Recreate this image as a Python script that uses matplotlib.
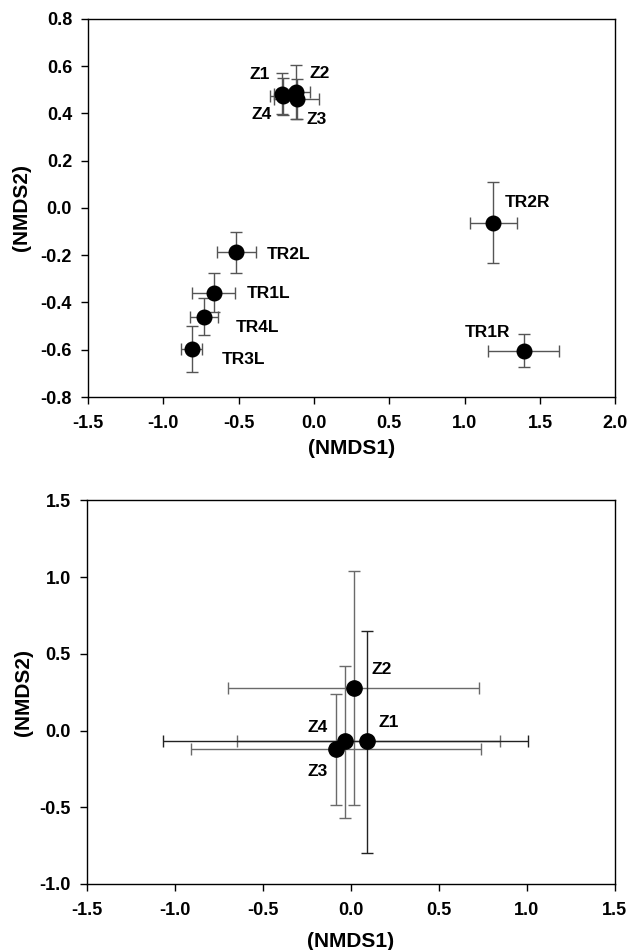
import numpy as np
import matplotlib
matplotlib.use("Agg")
import matplotlib.pyplot as plt
from matplotlib.ticker import FormatStrFormatter

plt.rcParams['font.family'] = ['Liberation Sans', 'DejaVu Sans']
plt.rcParams['font.weight'] = 'bold'

# top panel: sites along the transects
top_names = ['Z1', 'Z4', 'Z2', 'Z3', 'TR2L', 'TR1L', 'TR4L', 'TR3L', 'TR2R', 'TR1R']
top_x = [-0.215, -0.205, -0.121, -0.116, -0.515, -0.667, -0.730, -0.811, 1.189, 1.391]
top_y = [0.483, 0.472, 0.492, 0.462, -0.188, -0.358, -0.460, -0.598, -0.062, -0.604]
top_xerr = [0.05, 0.088, 0.093, 0.148, 0.13, 0.142, 0.095, 0.07, 0.156, 0.235]
top_yerr = [0.087, 0.08, 0.115, 0.085, 0.086, 0.081, 0.078, 0.098, 0.173, 0.069]
top_label_x = [-0.359, -0.347, 0.035, 0.018, -0.167, -0.304, -0.373, -0.468, 1.418, 1.152]
top_label_y = [0.563, 0.394, 0.567, 0.375, -0.196, -0.364, -0.505, -0.643, 0.024, -0.528]
top_xticks = [-1.5, -1.0, -0.5, 0.0, 0.5, 1.0, 1.5, 2.0]
top_yticks = [-0.8, -0.6, -0.4, -0.2, 0.0, 0.2, 0.4, 0.6, 0.8]

# bottom panel: Z sites only (asymmetric spreads)
bot_names = ['Z2', 'Z4', 'Z3', 'Z1']
bot_x = [0.015, -0.031, -0.085, 0.094]
bot_y = [0.28, -0.07, -0.123, -0.07]
bot_x_lo = [-0.696, -0.65, -0.91, -1.067]
bot_x_hi = [0.728, 0.846, 0.739, 1.008]
bot_y_lo = [-0.486, -0.567, -0.486, -0.797]
bot_y_hi = [1.04, 0.42, 0.238, 0.651]
bot_colors = ['#6a6a6a', '#6a6a6a', '#6a6a6a', '#222222']
bot_label_x = [0.174, -0.19, -0.19, 0.215]
bot_label_y = [0.395, 0.021, -0.27, 0.052]
bot_xticks = [-1.5, -1.0, -0.5, 0.0, 0.5, 1.0, 1.5]
bot_yticks = [-1.0, -0.5, 0.0, 0.5, 1.0, 1.5]

fig = plt.figure(figsize=(6.3, 9.5), dpi=100)
ax1 = fig.add_axes([0.1397, 0.5821, 0.837, 0.398])
ax2 = fig.add_axes([0.138, 0.0695, 0.838, 0.4037])

tick_fs = 13
pt_fs = 12.5
lab_fs = 15

def style(ax, xlab_y, ylab_x):
    ax.tick_params(direction='out', length=5, width=1, labelsize=tick_fs, top=False, right=False)
    ax.tick_params(axis='x', pad=8)
    ax.tick_params(axis='y', pad=6.5)
    for s in ax.spines.values():
        s.set_linewidth(1)
    for lab in ax.get_xticklabels() + ax.get_yticklabels():
        lab.set_fontweight('bold')
    ax.xaxis.set_major_formatter(FormatStrFormatter('%.1f'))
    ax.yaxis.set_major_formatter(FormatStrFormatter('%.1f'))
    ax.set_xlabel('(NMDS1)', fontsize=lab_fs, fontweight='bold', va='center')
    ax.set_ylabel('(NMDS2)', fontsize=lab_fs, fontweight='bold', va='center')
    ax.xaxis.set_label_coords(0.5, xlab_y)
    ax.yaxis.set_label_coords(ylab_x, 0.5)

ax1.errorbar(top_x, top_y, xerr=top_xerr, yerr=top_yerr, fmt='o', color='black',
             ecolor='#555555', elinewidth=1, capsize=4.3, capthick=1, markersize=10.5)
for n, lx, ly in zip(top_names, top_label_x, top_label_y):
    ax1.text(lx, ly, n, ha='center', va='center', fontsize=pt_fs, fontweight='bold')
ax1.set_xlim(-1.5, 2.0)
ax1.set_ylim(-0.8, 0.8)
ax1.set_xticks(top_xticks)
ax1.set_yticks(top_yticks)
style(ax1, -0.136, -0.127)

for i in range(len(bot_names)):
    xe = [[bot_x[i] - bot_x_lo[i]], [bot_x_hi[i] - bot_x[i]]]
    ye = [[bot_y[i] - bot_y_lo[i]], [bot_y_hi[i] - bot_y[i]]]
    ax2.errorbar([bot_x[i]], [bot_y[i]], xerr=xe, yerr=ye, fmt='none',
                 ecolor=bot_colors[i], elinewidth=1, capsize=4.3, capthick=1)
ax2.plot(bot_x, bot_y, 'o', color='black', markersize=11, zorder=5)
for n, lx, ly in zip(bot_names, bot_label_x, bot_label_y):
    ax2.text(lx, ly, n, ha='center', va='center', fontsize=pt_fs, fontweight='bold')
ax2.set_xlim(-1.5, 1.5)
ax2.set_ylim(-1.0, 1.5)
ax2.set_xticks(bot_xticks)
ax2.set_yticks(bot_yticks)
style(ax2, -0.150, -0.12)

fig.savefig('out.png', dpi=100)
